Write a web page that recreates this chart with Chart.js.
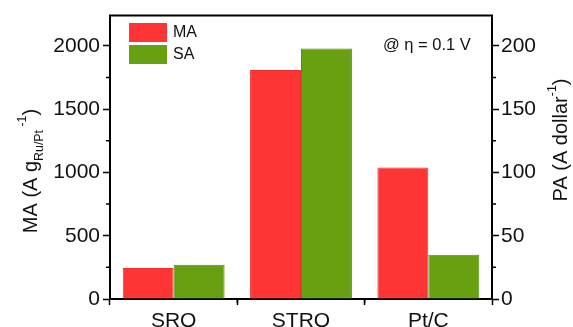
<!DOCTYPE html>
<html>
<head>
<meta charset="utf-8">
<script src="https://cdn.jsdelivr.net/npm/chart.js@4/dist/chart.umd.min.js"></script>
<style>
  html, body { margin: 0; padding: 0; background: #fff; }
  #wrap { width: 573px; height: 327px; position: relative; }
</style>
</head>
<body>
<div id="wrap"><canvas id="chart"></canvas></div>
<script>
// Data
const categories = ["SRO", "STRO", "Pt/C"];
const maValues = [245, 1810, 1040];
const saValues = [27, 198, 35];
const maTicks = [0, 500, 1000, 1500, 2000];
const maMinorTicks = [250, 750, 1250, 1750];
const paTicks = [0, 50, 100, 150, 200];
const paMinorTicks = [25, 75, 125, 175];

const MA_MAX = 2240;
const PA_MAX = 224;
const FONT = "'Liberation Sans', Arial, sans-serif";
const RED = "#ff3535";
const GREEN = "#67a112";

// draws text with sub/superscript pieces along the current baseline
function richWidth(ctx, parts, size) {
  let w = 0;
  parts.forEach((p) => {
    ctx.font = `${p.s ? size * 0.62 : size}px ${FONT}`;
    w += ctx.measureText(p.t).width;
  });
  return w;
}

function drawRich(ctx, parts, size, x, y) {
  let cx = x;
  parts.forEach((p) => {
    ctx.font = `${p.s ? size * 0.62 : size}px ${FONT}`;
    let dy = 0;
    if (p.s === "sub") dy = size * 0.3;
    if (p.s === "sup") dy = -size * 0.55;
    ctx.fillText(p.t, cx, y + dy);
    cx += ctx.measureText(p.t).width;
  });
}

const leftTitle = [
  { t: "MA (A g" },
  { t: "Ru/Pt", s: "sub" },
  { t: " -1", s: "sup" },
  { t: ")" },
];
const rightTitle = [{ t: "PA (A dollar" }, { t: "-1", s: "sup" }, { t: ")" }];

const decorPlugin = {
  id: "decor",
  afterDraw(chart) {
    const ctx = chart.ctx;
    const area = chart.chartArea;
    const y = chart.scales.y;
    const y1 = chart.scales.y1;
    const x = chart.scales.x;
    ctx.save();
    ctx.strokeStyle = "#000";
    ctx.lineWidth = 2;

    // top frame line
    ctx.beginPath();
    ctx.moveTo(area.left - 1, area.top);
    ctx.lineTo(area.right + 1, area.top);
    ctx.stroke();

    // minor ticks
    ctx.lineWidth = 1.5;
    ctx.beginPath();
    maMinorTicks.forEach((v) => {
      const py = y.getPixelForValue(v);
      ctx.moveTo(area.left - 4, py);
      ctx.lineTo(area.left, py);
    });
    paMinorTicks.forEach((v) => {
      const py = y1.getPixelForValue(v);
      ctx.moveTo(area.right, py);
      ctx.lineTo(area.right + 4, py);
    });
    for (let i = 0; i < categories.length - 1; i++) {
      const px = (x.getPixelForValue(i) + x.getPixelForValue(i + 1)) / 2;
      ctx.moveTo(px, area.bottom);
      ctx.lineTo(px, area.bottom + 4);
    }
    ctx.stroke();

    // legend
    const sets = chart.data.datasets;
    ctx.textBaseline = "middle";
    sets.forEach((ds, i) => {
      const top = 23 + i * 22;
      ctx.fillStyle = ds.backgroundColor;
      ctx.fillRect(129, top, 38, 19);
      ctx.fillStyle = "#111";
      ctx.font = `16px ${FONT}`;
      ctx.fillText(ds.label, 173, top + 10);
    });

    // condition note
    ctx.font = `16.5px ${FONT}`;
    ctx.fillText("@ \u03b7 = 0.1 V", 383, 45);

    // axis titles
    ctx.fillStyle = "#111";
    ctx.textBaseline = "alphabetic";
    const size = 20;
    ctx.save();
    ctx.translate(37, 171);
    ctx.rotate(-Math.PI / 2);
    drawRich(ctx, leftTitle, size, -richWidth(ctx, leftTitle, size) / 2, 0);
    ctx.restore();

    ctx.save();
    ctx.translate(567, 140);
    ctx.rotate(-Math.PI / 2);
    drawRich(ctx, rightTitle, size, -richWidth(ctx, rightTitle, size) / 2, 0);
    ctx.restore();

    ctx.restore();
  },
};

const plainTick = (v) => String(v);

new Chart(document.getElementById("chart"), {
  type: "bar",
  data: {
    labels: categories,
    datasets: [
      {
        label: "MA",
        data: maValues,
        yAxisID: "y",
        backgroundColor: RED,
        borderColor: "#e83030",
        borderWidth: 1,
      },
      {
        label: "SA",
        data: saValues,
        yAxisID: "y1",
        backgroundColor: GREEN,
        borderColor: "#5a8e10",
        borderWidth: 1,
      },
    ],
  },
  options: {
    responsive: true,
    maintainAspectRatio: false,
    animation: false,
    layout: { padding: { top: 13, left: 0, right: 0, bottom: 0 } },
    datasets: {
      bar: { categoryPercentage: 0.8, barPercentage: 1.0 },
    },
    plugins: {
      legend: { display: false },
      tooltip: { enabled: false },
    },
    scales: {
      x: {
        grid: {
          drawOnChartArea: false,
          tickLength: 6,
          tickColor: "#000",
          tickWidth: 1.5,
        },
        border: { color: "#000", width: 2 },
        ticks: {
          color: "#111",
          font: { family: FONT, size: 21 },
          padding: 4,
        },
        afterFit(scale) {
          scale.height = 28;
        },
      },
      y: {
        position: "left",
        min: 0,
        max: MA_MAX,
        afterBuildTicks(scale) {
          scale.ticks = maTicks.map((v) => ({ value: v }));
        },
        grid: {
          drawOnChartArea: false,
          tickLength: 7,
          tickColor: "#000",
          tickWidth: 1.5,
        },
        border: { color: "#000", width: 2 },
        ticks: {
          color: "#111",
          font: { family: FONT, size: 21 },
          padding: 3,
          callback: plainTick,
        },
        afterFit(scale) {
          scale.width = 110;
        },
      },
      y1: {
        position: "right",
        min: 0,
        max: PA_MAX,
        afterBuildTicks(scale) {
          scale.ticks = paTicks.map((v) => ({ value: v }));
        },
        grid: {
          drawOnChartArea: false,
          tickLength: 7,
          tickColor: "#000",
          tickWidth: 1.5,
        },
        border: { color: "#000", width: 2 },
        ticks: {
          color: "#111",
          font: { family: FONT, size: 21 },
          padding: 2,
          callback: plainTick,
        },
        afterFit(scale) {
          scale.width = 81;
        },
      },
    },
  },
  plugins: [decorPlugin],
});
</script>
</body>
</html>
